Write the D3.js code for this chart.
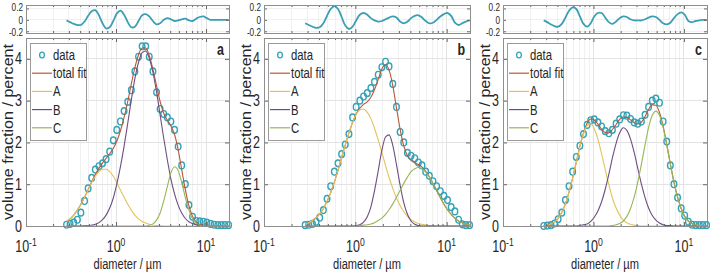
<!DOCTYPE html>
<html>
<head>
<meta charset="utf-8">
<script src="https://cdn.jsdelivr.net/npm/d3@7"></script>
<style>
  body { margin: 0; background: #fff; }
  text { font-family: "Liberation Sans", Arial, sans-serif; }
</style>
</head>
<body>
<svg id="chart" width="712" height="272"></svg>
<script>
// diameters (um), shared by all three measurements
const diameters = [0.282,0.309,0.339,0.372,0.407,0.447,0.490,0.537,0.589,0.646,
  0.708,0.776,0.851,0.933,1.02,1.12,1.23,1.35,1.48,1.62,
  1.78,1.95,2.14,2.34,2.57,2.82,3.09,3.39,3.72,4.07,
  4.47,4.90,5.37,5.89,6.46,7.08,7.76,8.51,9.33,10.2,
  11.2,12.3,13.5,14.8,16.2,17.8];

// panel a
const aData = [0.03,0.05,0.08,0.15,0.32,0.60,0.90,1.15,1.35,1.43,
  1.50,1.60,1.78,2.05,2.30,2.50,2.75,2.97,3.25,3.70,
  4.05,4.30,4.30,4.05,3.70,3.20,2.80,2.68,2.60,2.50,
  2.30,1.90,1.45,1.00,0.50,0.22,0.12,0.11,0.10,0.08,
  0.05,0.03,0.02,0.02,0.02,0.02];
const aFit = [0.11,0.17,0.26,0.38,0.52,0.69,0.87,1.06,1.23,1.38,
  1.51,1.62,1.73,1.86,2.03,2.28,2.60,2.98,3.40,3.79,
  4.10,4.26,4.26,4.08,3.75,3.36,2.98,2.70,2.53,2.40,
  2.19,1.83,1.35,0.87,0.48,0.23,0.10,0.04,0.01,0,
  0,0,0,0,0,0];
const aA = [0.11,0.17,0.26,0.38,0.52,0.69,0.86,1.04,1.19,1.30,
  1.36,1.36,1.30,1.19,1.04,0.86,0.69,0.52,0.38,0.26,
  0.17,0.11,0.07,0.04,0.02,0.01,0.01,0,0,0,
  0,0,0,0,0,0,0,0,0,0,
  0,0,0,0,0,0];
const aB = [0,0,0,0,0,0.01,0.01,0.02,0.04,0.08,
  0.15,0.26,0.43,0.67,1.00,1.42,1.91,2.46,3.02,3.53,
  3.92,4.15,4.19,4.02,3.68,3.21,2.66,2.10,1.58,1.13,
  0.77,0.50,0.31,0.18,0.10,0.06,0.03,0.01,0.01,0,
  0,0,0,0,0,0];
const aC = [0,0,0,0,0,0,0,0,0,0,
  0,0,0,0,0,0,0,0,0,0,
  0,0,0,0.02,0.05,0.14,0.31,0.60,0.95,1.27,
  1.42,1.33,1.04,0.68,0.38,0.17,0.07,0.02,0.01,0,
  0,0,0,0,0,0];
const aResid = [-0.01,-0.04,-0.07,-0.09,-0.09,-0.03,0.07,0.15,0.17,0.08,
  -0.06,-0.15,-0.13,-0.02,0.11,0.16,0.09,-0.04,-0.13,-0.12,
  -0.02,0.08,0.10,0.06,-0.02,-0.08,-0.06,0.00,0.03,0.01,
  -0.02,-0.01,0.01,0.02,-0.01,-0.02,0.02,0.05,0.06,0.03,
  0,0,0,0,0,0];

// panel b
const bData = [0.02,0.03,0.05,0.10,0.20,0.38,0.65,0.95,1.30,1.50,
  1.72,1.95,2.20,2.60,2.85,3.00,3.10,3.18,3.30,3.45,
  3.62,3.80,3.93,3.82,3.40,2.85,2.25,2.00,1.75,1.68,
  1.62,1.52,1.45,1.30,1.20,1.07,0.95,0.83,0.72,0.62,
  0.45,0.35,0.15,0.04,0.02,0.02];
const bFit = [0.05,0.08,0.13,0.20,0.29,0.42,0.59,0.80,1.05,1.33,
  1.64,1.94,2.23,2.48,2.68,2.82,2.91,2.97,3.08,3.26,
  3.51,3.76,3.86,3.73,3.36,2.83,2.32,1.92,1.68,1.57,
  1.51,1.47,1.41,1.31,1.18,1.02,0.85,0.68,0.52,0.39,
  0.28,0.19,0.12,0.08,0.05,0.03];
const bA = [0.05,0.08,0.13,0.20,0.29,0.42,0.59,0.80,1.05,1.33,
  1.64,1.94,2.23,2.48,2.67,2.78,2.80,2.72,2.57,2.34,
  2.06,1.76,1.45,1.16,0.90,0.67,0.49,0.34,0.23,0.15,
  0.10,0.06,0.04,0.02,0.01,0.01,0,0,0,0,
  0,0,0,0,0,0];
const bB = [0,0,0,0,0,0,0,0,0,0,
  0,0,0,0,0.01,0.03,0.09,0.22,0.46,0.84,
  1.32,1.81,2.13,2.18,1.93,1.47,0.98,0.56,0.28,0.12,
  0.04,0.01,0,0,0,0,0,0,0,0,
  0,0,0,0,0,0];
const bC = [0,0,0,0,0,0,0,0,0,0,
  0,0,0,0,0,0.01,0.02,0.03,0.05,0.08,
  0.13,0.19,0.28,0.39,0.53,0.69,0.85,1.02,1.17,1.30,
  1.37,1.40,1.37,1.29,1.17,1.01,0.85,0.68,0.52,0.39,
  0.28,0.19,0.12,0.08,0.05,0.03];
const bResid = [-0.06,-0.09,-0.12,-0.14,-0.13,-0.06,0.07,0.19,0.24,0.19,
  0.05,-0.10,-0.16,-0.12,-0.01,0.09,0.12,0.09,0.03,-0.01,
  -0.03,-0.02,0.01,0.04,0.06,0.04,-0.03,-0.06,-0.03,0.03,
  0.07,0.08,0.04,-0.02,-0.06,-0.05,0.00,0.06,0.10,0.12,
  0.07,-0.05,-0.09,-0.06,-0.03,-0.01];

// panel c
const cData = [0.00,0.01,0.02,0.06,0.16,0.32,0.62,0.95,1.30,1.65,
  1.92,2.20,2.42,2.53,2.55,2.48,2.38,2.27,2.22,2.30,
  2.45,2.55,2.65,2.64,2.56,2.48,2.45,2.50,2.66,2.85,
  3.00,3.05,2.95,2.50,2.02,1.45,1.00,0.68,0.42,0.25,
  0.10,0.03,0.02,0.02,0.02,0.02];
const cFit = [0.01,0.02,0.05,0.10,0.19,0.33,0.53,0.81,1.15,1.53,
  1.91,2.23,2.46,2.56,2.54,2.44,2.32,2.24,2.23,2.31,
  2.43,2.55,2.61,2.60,2.54,2.47,2.44,2.48,2.62,2.79,
  2.90,2.89,2.72,2.39,1.95,1.49,1.05,0.69,0.42,0.23,
  0.12,0.06,0.03,0.01,0,0];
const cA = [0.01,0.02,0.05,0.10,0.19,0.33,0.53,0.81,1.15,1.52,
  1.90,2.21,2.40,2.45,2.33,2.08,1.73,1.35,0.99,0.67,
  0.43,0.26,0.14,0.08,0.04,0.02,0.01,0,0,0,
  0,0,0,0,0,0,0,0,0,0,
  0,0,0,0,0,0];
const cB = [0,0,0,0,0,0,0,0,0,0,
  0.01,0.03,0.05,0.11,0.21,0.36,0.58,0.88,1.24,1.63,
  1.98,2.23,2.35,2.29,2.08,1.76,1.38,1.00,0.68,0.43,
  0.25,0.14,0.07,0.03,0.01,0.01,0,0,0,0,
  0,0,0,0,0,0];
const cC = [0,0,0,0,0,0,0,0,0,0,
  0,0,0,0,0,0,0,0,0,0.01,
  0.03,0.06,0.12,0.23,0.42,0.69,1.05,1.48,1.94,2.36,
  2.65,2.75,2.65,2.36,1.94,1.48,1.05,0.69,0.42,0.23,
  0.12,0.06,0.03,0.01,0,0];
const cResid = [-0.01,-0.04,-0.08,-0.11,-0.12,-0.07,0.04,0.16,0.22,0.19,
  0.06,-0.07,-0.12,-0.06,0.06,0.12,0.12,0.04,-0.04,-0.07,
  -0.03,0.03,0.06,0.05,0.01,-0.01,-0.01,-0.01,0.01,0.04,
  0.06,0.05,0.00,-0.06,-0.08,-0.05,0.03,0.10,0.13,0.09,
  -0.02,-0.04,-0.02,-0.01,0.00,0.00];

// ticks and labels
const xTickExponents = [-1, 0, 1];
const yTicksMain = [0, 1, 2, 3, 4];
const yTicksResid = [-0.2, 0, 0.2];
const legendLabels = ["data", "total fit", "A", "B", "C"];
const panelLetters = ["a", "b", "c"];

const panels = [
  { data: aData, fit: aFit, A: aA, B: aB, C: aC, resid: aResid },
  { data: bData, fit: bFit, A: bA, B: bB, C: bC, resid: bResid },
  { data: cData, fit: cFit, A: cA, B: cB, C: cC, resid: cResid }
];

// layout
const lefts = [26, 264, 503];
const widths = [203, 206, 204];
const residTop = 5, residBottom = 33, mainTop = 38, mainBottom = 226;
const col = { data: "#33a2b6", fit: "#b9583b", A: "#e2c35a", B: "#6d4e80", C: "#98b656",
  resid: "#3a9fb2", box: "#8e8e8e", grid: "#e3e3e3", minorGrid: "#f0f0f0", text: "#262626" };
const sx = 0.78;   // the figure is squeezed horizontally

const svg = d3.select("#chart");

function sqText(parent, str, px, py, size, anchor) {
  return parent.append("text")
    .attr("transform", `translate(${px},${py}) scale(${sx},1)`)
    .attr("text-anchor", anchor)
    .attr("font-size", size)
    .attr("fill", col.text)
    .text(str);
}

const isMajor = v => Math.abs(Math.log10(v) - Math.round(Math.log10(v))) < 1e-6;

panels.forEach((p, k) => {
  const x0 = lefts[k], x1 = lefts[k] + widths[k];
  const x = d3.scaleLog().domain([0.1, 18]).range([x0, x1]);
  const y = d3.scaleLinear().domain([0, 4.5]).range([mainBottom, mainTop]);
  const yr = d3.scaleLinear().domain([-0.23, 0.26]).range([residBottom, residTop]);
  const allX = x.ticks().filter(v => v <= 18);
  const majorX = allX.filter(isMajor);
  const minorX = allX.filter(v => !isMajor(v));
  const g = svg.append("g");

  // grids
  const grid = g.append("g").attr("shape-rendering", "crispEdges");
  [[mainTop, mainBottom], [residTop, residBottom]].forEach(([t, b]) => {
    grid.append("g").selectAll("line").data(minorX).join("line")
      .attr("x1", d => x(d)).attr("x2", d => x(d)).attr("y1", t).attr("y2", b)
      .attr("stroke", col.minorGrid);
    grid.append("g").selectAll("line").data(majorX).join("line")
      .attr("x1", d => x(d)).attr("x2", d => x(d)).attr("y1", t).attr("y2", b)
      .attr("stroke", col.grid);
  });
  grid.append("g").selectAll("line").data(yTicksMain.slice(1)).join("line")
    .attr("x1", x0).attr("x2", x1).attr("y1", d => y(d)).attr("y2", d => y(d))
    .attr("stroke", col.grid);
  grid.append("g").selectAll("line").data(yTicksResid).join("line")
    .attr("x1", x0).attr("x2", x1).attr("y1", d => yr(d)).attr("y2", d => yr(d))
    .attr("stroke", col.minorGrid);

  // residual plot
  const residLine = d3.line()
    .x((d, i) => x(diameters[i])).y(d => yr(d))
    .curve(d3.curveCatmullRom.alpha(0.5));
  g.append("path").datum(p.resid)
    .attr("d", residLine).attr("fill", "none")
    .attr("stroke", col.resid).attr("stroke-width", 1.8);

  // main plot: data markers then fits
  g.append("g").selectAll("ellipse").data(p.data).join("ellipse")
    .attr("cx", (d, i) => x(diameters[i])).attr("cy", d => y(d))
    .attr("rx", 2.8).attr("ry", 3.4)
    .attr("fill", "none").attr("stroke", col.data).attr("stroke-width", 1.4);

  const fitLine = d3.line()
    .x((d, i) => x(diameters[i])).y(d => y(d))
    .curve(d3.curveMonotoneX);
  [["fit", p.fit], ["A", p.A], ["B", p.B], ["C", p.C]].forEach(([key, vals]) => {
    g.append("path").datum(vals)
      .attr("d", fitLine).attr("fill", "none")
      .attr("stroke", col[key]).attr("stroke-width", 1.1);
  });

  // ticks (inward)
  function ticks(axisGen, tx, ty) {
    const a = g.append("g").attr("transform", `translate(${tx},${ty})`)
      .attr("color", "#666").call(axisGen);
    a.select(".domain").remove();
    a.selectAll("text").remove();
  }
  [[mainTop, mainBottom], [residTop, residBottom]].forEach(([t, b]) => {
    ticks(d3.axisBottom(x).tickValues(majorX).tickSize(-4), 0, b);
    ticks(d3.axisBottom(x).tickValues(minorX).tickSize(-2), 0, b);
    ticks(d3.axisTop(x).tickValues(majorX).tickSize(-4), 0, t);
    ticks(d3.axisTop(x).tickValues(minorX).tickSize(-2), 0, t);
  });
  ticks(d3.axisLeft(y).tickValues(yTicksMain).tickSize(-4), x0, 0);
  ticks(d3.axisRight(y).tickValues(yTicksMain).tickSize(-4), x1, 0);
  ticks(d3.axisLeft(yr).tickValues(yTicksResid).tickSize(-3), x0, 0);
  ticks(d3.axisRight(yr).tickValues(yTicksResid).tickSize(-3), x1, 0);

  // boxes
  g.append("rect").attr("x", x0).attr("y", residTop)
    .attr("width", x1 - x0).attr("height", residBottom - residTop)
    .attr("fill", "none").attr("stroke", col.box).attr("shape-rendering", "crispEdges");
  g.append("rect").attr("x", x0).attr("y", mainTop)
    .attr("width", x1 - x0).attr("height", mainBottom - mainTop)
    .attr("fill", "none").attr("stroke", col.box).attr("shape-rendering", "crispEdges");

  // tick labels (residual labels are spread a little so they do not collide)
  yTicksMain.forEach(v => sqText(g, String(v), x0 - 4, y(v) + 5.5, 16, "end"));
  yTicksResid.forEach(v => sqText(g, String(v), x0 - 3, yr(v) + 3.8 - v * 5, 10.5, "end"));
  xTickExponents.forEach(e => {
    const t = sqText(g, "10", x(Math.pow(10, e)), 252, 16, "middle");
    t.append("tspan").attr("font-size", 11).attr("dy", -6).text(String(e));
  });

  // axis titles
  g.append("text")
    .attr("x", (x0 + x1) / 2).attr("y", 269)
    .attr("text-anchor", "middle").attr("font-size", 14).attr("fill", col.text)
    .attr("textLength", 68).attr("lengthAdjust", "spacingAndGlyphs")
    .text("diameter / µm");
  g.append("text")
    .attr("transform", `translate(${x0 - 13},${(mainTop + mainBottom) / 2}) rotate(-90)`)
    .attr("text-anchor", "middle").attr("font-size", 15).attr("fill", col.text)
    .attr("textLength", 176).attr("lengthAdjust", "spacingAndGlyphs")
    .text("volume fraction / percent");

  // panel letter
  sqText(g, panelLetters[k], x1 - 5, 55, 16, "end").attr("font-weight", "bold");

  // legend
  const leg = g.append("g");
  leg.append("rect").attr("x", x0 + 4).attr("y", 43).attr("width", 56).attr("height", 97)
    .attr("fill", "#fff").attr("stroke", "#9b9b9b").attr("shape-rendering", "crispEdges");
  const keys = ["data", "fit", "A", "B", "C"];
  legendLabels.forEach((lab, j) => {
    const ly = 55 + j * 18.2;
    if (j === 0) {
      leg.append("ellipse").attr("cx", x0 + 16).attr("cy", ly)
        .attr("rx", 2.4).attr("ry", 2.9)
        .attr("fill", "none").attr("stroke", col.data).attr("stroke-width", 1.3);
    } else {
      leg.append("line").attr("x1", x0 + 6).attr("x2", x0 + 26)
        .attr("y1", ly).attr("y2", ly)
        .attr("stroke", col[keys[j]]).attr("stroke-width", 1.2);
    }
    sqText(leg, lab, x0 + 27, ly + 5, 14.5, "start");
  });
});
</script>
</body>
</html>
